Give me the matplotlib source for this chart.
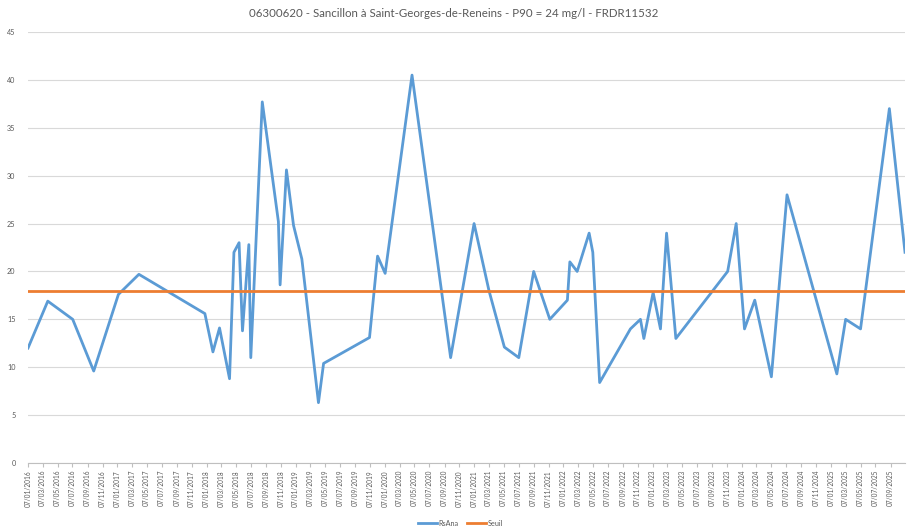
import matplotlib
matplotlib.use("Agg")
import matplotlib.pyplot as plt
import matplotlib.dates as mdates
import pandas as pd

plt.rcParams['font.family'] = ['Lato', 'DejaVu Sans']

# prélèvements (date, valeur RsAna en mg/l)
dates = ["2016-01-07", "2016-03-28", "2016-07-08", "2016-10-02", "2017-01-11",
         "2017-04-05", "2017-12-31", "2018-02-02", "2018-03-01", "2018-04-11",
         "2018-04-29", "2018-05-20", "2018-06-03", "2018-06-29", "2018-07-07",
         "2018-08-23", "2018-10-28", "2018-11-04", "2018-11-30", "2018-12-29",
         "2019-02-01", "2019-04-10", "2019-05-01", "2019-11-05", "2019-12-08",
         "2020-01-08", "2020-04-27", "2020-10-02", "2021-01-06", "2021-03-08",
         "2021-05-10", "2021-07-08", "2021-09-07", "2021-11-12", "2022-01-23",
         "2022-02-02", "2022-03-04", "2022-04-22", "2022-05-07", "2022-06-04",
         "2022-10-08", "2022-11-18", "2022-12-02", "2023-01-09", "2023-02-08",
         "2023-03-05", "2023-04-12", "2023-11-10", "2023-12-15", "2024-01-18",
         "2024-02-29", "2024-05-07", "2024-07-10", "2025-01-30", "2025-03-07",
         "2025-05-07", "2025-09-02", "2025-11-05"]
rsana = [12.0, 16.9, 15.0, 9.6, 17.6,
         19.7, 15.6, 11.6, 14.1, 8.8,
         22.0, 23.0, 13.8, 22.8, 11.0,
         37.7, 25.2, 18.6, 30.6, 24.8,
         21.3, 6.3, 10.4, 13.1, 21.6,
         19.8, 40.5, 11.0, 25.0, 18.0,
         12.1, 11.0, 20.0, 15.0, 17.0,
         21.0, 20.0, 24.0, 22.0, 8.4,
         14.0, 15.0, 13.0, 17.8, 14.0,
         24.0, 13.0, 20.0, 25.0, 14.0,
         17.0, 9.0, 28.0, 9.3, 15.0,
         14.0, 37.0, 22.0]
seuil = 18

x = pd.to_datetime(dates)

fig = plt.figure(figsize=(9.07, 5.27), dpi=100)
ax = fig.add_axes([28 / 907, 64 / 527, 877 / 907, 431 / 527])

ax.plot(x, rsana, color='#5B9BD5', lw=2.0, label='RsAna', zorder=3)
ax.plot(x, [seuil] * len(x), color='#ED7D31', lw=2.0, label='Seuil', zorder=3)

ax.set_xlim(x[0], x[-1])
ax.set_ylim(0, 45)
ax.set_yticks(range(0, 46, 5))
ax.grid(axis='y', color='#D9D9D9', lw=0.8)
ax.set_axisbelow(True)

ticks = pd.date_range("2016-01-07", "2025-09-07", freq=pd.DateOffset(months=2))
ax.set_xticks(ticks)
ax.xaxis.set_major_formatter(mdates.DateFormatter('%d/%m/%Y'))
ax.tick_params(axis='x', labelsize=4.7, labelcolor='#595959', rotation=90,
               length=3, color='#BFBFBF', pad=2)
ax.tick_params(axis='y', labelsize=5.2, labelcolor='#595959', length=0, pad=9)

for s in ['top', 'right', 'left']:
    ax.spines[s].set_visible(False)
ax.spines['bottom'].set_color('#BFBFBF')
ax.spines['bottom'].set_linewidth(0.8)

fig.suptitle("06300620 - Sancillon à Saint-Georges-de-Reneins - P90 = 24 mg/l - FRDR11532",
             y=0.985, fontsize=8.3, color='#595959')

fig.legend(loc='lower center', bbox_to_anchor=(0.508, -0.012), ncol=2, frameon=False,
           fontsize=5.2, labelcolor='#595959', handlelength=2.6, columnspacing=1.2,
           handletextpad=0.2)

fig.savefig('out.png', dpi=100)
